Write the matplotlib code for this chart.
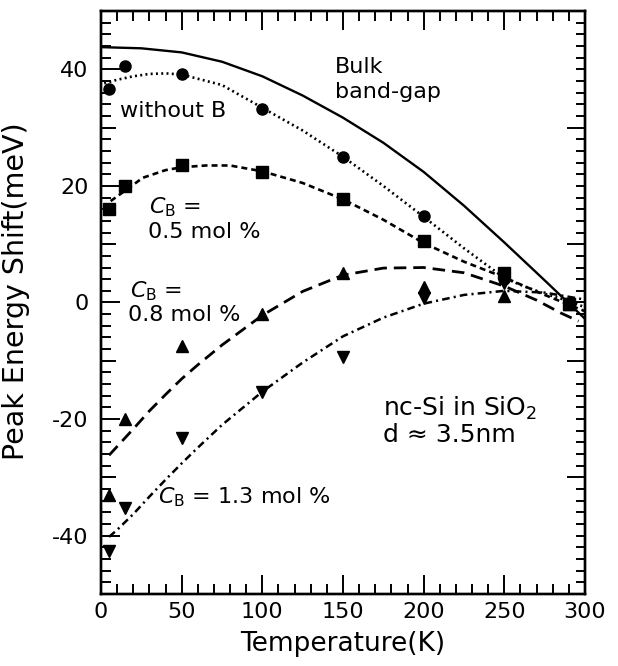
import matplotlib
matplotlib.use('Agg')
import matplotlib.pyplot as plt
from matplotlib.ticker import MultipleLocator, FixedLocator

plt.rcParams['font.family'] = ['DejaVu Sans']
plt.rcParams['mathtext.fontset'] = 'dejavusans'
plt.rcParams['lines.scale_dashes'] = False
plt.rcParams['axes.unicode_minus'] = False

# measured points (T in K, shift in meV)
temp = [5, 15, 50, 100, 150, 200, 250, 290]
no_boron = [36.6, 40.6, 39.2, 33.2, 25.0, 14.8, 4.0, -0.2]
cb_05 = [16.1, 19.9, 23.5, 22.3, 17.7, 10.5, 5.0, -0.2]
cb_08 = [-33.0, -19.9, -7.4, -2.0, 5.1, 2.6, 1.1, -0.2]
cb_13 = [-42.7, -35.3, -23.2, -15.4, -9.4, 0.7, 3.3, -0.2]

# curves
bulk_t = [0, 25, 50, 75, 100, 125, 150, 175, 200, 225, 250, 275, 300]
bulk_y = [43.8, 43.6, 42.9, 41.3, 38.8, 35.5, 31.7, 27.4, 22.4, 16.6, 10.3, 3.8, -2.8]

fit0_t = [2, 10, 20, 30, 40, 50, 75, 100, 125, 150, 175, 200, 225, 250, 262, 275, 287, 300]
fit0_y = [37.6, 38.2, 38.8, 39.2, 39.3, 39.1, 37.3, 33.4, 29.5, 25.0, 20.0, 14.7, 9.3, 4.2, 2.8, 1.5, 0.5, -0.8]

fit05_t = [6, 15, 26, 40, 50, 65, 80, 100, 125, 150, 175, 200, 225, 250, 275, 300]
fit05_y = [17.4, 19.2, 21.4, 22.7, 23.2, 23.5, 23.5, 22.5, 20.5, 17.7, 14.2, 10.2, 7.0, 4.3, 1.3, -1.5]

fit08_t = [5, 10, 20, 30, 40, 50, 60, 75, 100, 125, 150, 175, 200, 225, 250, 270, 285, 296]
fit08_y = [-26.2, -24.7, -21.7, -18.6, -15.8, -13.1, -10.7, -7.3, -2.2, 1.9, 4.7, 5.9, 6.0, 5.1, 2.8, 0.4, -1.8, -3.2]

fit13_t = [5, 10, 20, 30, 40, 50, 60, 75, 100, 125, 150, 175, 200, 225, 250, 275, 300]
fit13_y = [-40.2, -39.0, -36.3, -33.3, -30.4, -27.6, -24.9, -21.0, -15.3, -10.3, -5.8, -2.6, -0.2, 1.3, 2.0, 1.7, 0.5]

fig = plt.figure(figsize=(6.18, 6.66), dpi=100)
ax = fig.add_axes([0.1634, 0.1081, 0.7832, 0.8754])

ax.plot(bulk_t, bulk_y, '-', c='k', lw=1.7)
ax.plot(fit0_t, fit0_y, c='k', lw=1.9, dashes=(1.4, 2.4))
ax.plot(fit05_t, fit05_y, c='k', lw=1.9, dashes=(4.3, 2.9))
ax.plot(fit08_t, fit08_y, c='k', lw=2.0, dashes=(9.0, 5.0))
ax.plot(fit13_t, fit13_y, c='k', lw=1.8, dashes=(5.5, 3.0, 1.5, 3.0))

ax.plot(temp, cb_13, 'v', c='k', ms=8.7, ls='none')
ax.plot(temp, cb_08, '^', c='k', ms=8.7, ls='none')
ax.plot(temp, no_boron, 'o', c='k', ms=8.0, ls='none')
ax.plot(temp, cb_05, 's', c='k', ms=8.2, ls='none')

ax.set_xlim(0, 300)
ax.set_ylim(-50, 50)

ax.xaxis.set_major_locator(MultipleLocator(50))
ax.xaxis.set_minor_locator(MultipleLocator(10))
ax.yaxis.set_major_locator(MultipleLocator(20))
ax.yaxis.set_minor_locator(MultipleLocator(2))

ax.tick_params(which='both', direction='in', top=True, right=False, width=1.4)
ax.tick_params(which='major', length=13.5, labelsize=16)
ax.tick_params(which='minor', length=7)
ax.tick_params(axis='y', which='major', pad=9)
ax.tick_params(axis='x', which='major', pad=6)

# medium ticks on the left at the odd tens
mid = ax.secondary_yaxis('left')
mid.yaxis.set_major_locator(FixedLocator([-30, -10, 10, 30]))
mid.tick_params(direction='in', length=10.5, width=1.4, labelleft=False)
mid.spines['left'].set_visible(False)

# right side: long ticks at the odd tens
rt = ax.twinx()
rt.set_ylim(ax.get_ylim())
rt.yaxis.set_major_locator(FixedLocator([-30, -10, 10, 30]))
rt.yaxis.set_minor_locator(MultipleLocator(2))
rt.tick_params(which='both', direction='in', width=1.4, labelright=False)
rt.tick_params(which='major', length=13)
rt.tick_params(which='minor', length=6.5)

for a in (ax, rt):
    for s in a.spines.values():
        s.set_linewidth(1.7)

ax.set_xlabel('Temperature(K)', fontsize=19)
ax.set_ylabel('Peak Energy Shift(meV)', fontsize=20.5)
ax.xaxis.set_label_coords(0.5, -0.064)
ax.yaxis.set_label_coords(-0.147, 0.52)

fs = 16
ax.text(145, 39.3, 'Bulk', fontsize=fs, va='baseline')
ax.text(145, 35.0, 'band-gap', fontsize=fs, va='baseline')
ax.text(11.8, 31.9, 'without B', fontsize=fs, va='baseline')
ax.text(30.0, 15.3, r'$C_\mathrm{B}$ =', fontsize=fs, va='baseline')
ax.text(29.0, 11.1, '0.5 mol %', fontsize=fs, va='baseline')
ax.text(18.0, 0.8, r'$C_\mathrm{B}$ =', fontsize=fs, va='baseline')
ax.text(16.5, -3.1, '0.8 mol %', fontsize=fs, va='baseline')
ax.text(35.3, -34.4, r'$C_\mathrm{B}$ = 1.3 mol %', fontsize=fs, va='baseline')
ax.text(174.8, -19.4, r'nc-Si in SiO$_2$', fontsize=18, va='baseline')
ax.text(174.8, -24.0, 'd ≈ 3.5nm', fontsize=18, va='baseline')

fig.savefig('out.png', dpi=100)
